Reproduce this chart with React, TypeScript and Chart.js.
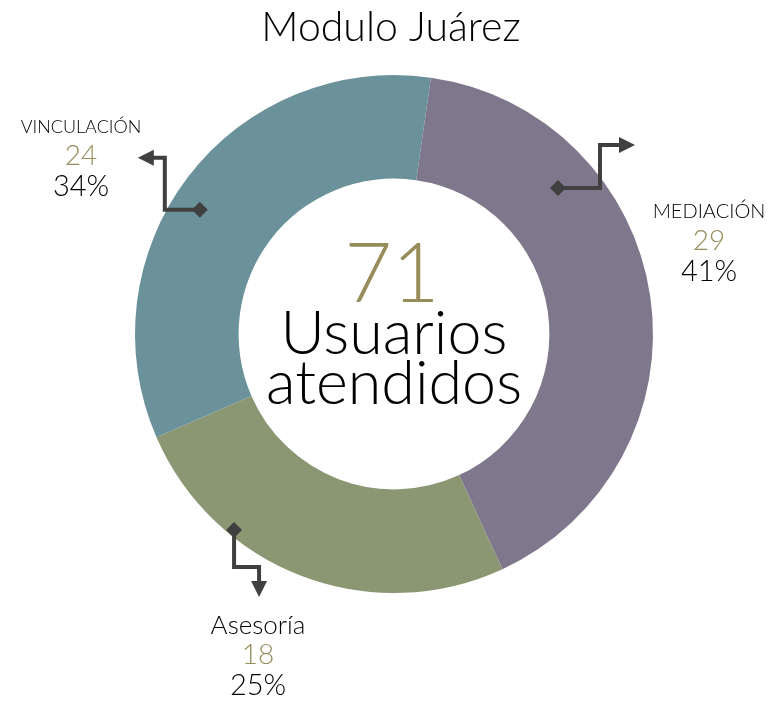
import React, { useEffect, useRef } from "react";
import { Chart, registerables } from "chart.js";

Chart.register(...registerables);

const TITLE = "Modulo Juárez";
const CATEGORIES = ["MEDIACIÓN", "Asesoría", "VINCULACIÓN"];
const VALUES = [29, 18, 24];
const COLORS = ["#7f778c", "#8b9672", "#6b919b"];
const CENTER_LABEL = ["Usuarios", "atendidos"];

const FONT = "Lato, 'Open Sans', sans-serif";
const W = "300";
const GOLD = "#968d5b";
const LINE = "#404040";

// callout geometry (annotation styling): anchor angle (deg, clockwise from top), radius fraction,
// elbow path offsets, label block position
const CALLOUTS = [
  { angle: 48.3, rf: 0.848, path: [[42, 0], [42, -43], [77, -43]], label: [709, 212], sizes: [20, 28, 29] },
  { angle: 219.2, rf: 0.977, path: [[0, 37], [25, 37], [25, 67]], label: [258, 626], sizes: [26, 28, 29] },
  { angle: 302.6, rf: 0.89, path: [[-35, 0], [-35, -52], [-62, -52]], label: [81, 127], sizes: [18, 28, 29] },
];

const overlay = {
  id: "overlay",
  afterDraw(chart: any) {
    const ctx = chart.ctx;
    const meta = chart.getDatasetMeta(0);
    const arc = meta.data[0];
    const { x: cx, y: cy, outerRadius } = arc.getProps(["x", "y", "outerRadius"], true);
    const total = VALUES.reduce((a, b) => a + b, 0);
    ctx.save();
    ctx.textAlign = "center";
    ctx.textBaseline = "middle";
    // title
    ctx.fillStyle = "#000";
    ctx.font = `${W} 41px ${FONT}`;
    ctx.fillText(TITLE, chart.width / 2 + 3, 28);
    // center
    ctx.fillStyle = GOLD;
    ctx.font = `${W} 82px ${FONT}`;
    ctx.fillText(String(total), cx - 2, cy - 58);
    ctx.fillStyle = "#000";
    ctx.font = `${W} 61px ${FONT}`;
    ctx.fillText(CENTER_LABEL[0], cx, cy + 0);
    ctx.fillText(CENTER_LABEL[1], cx, cy + 50);

    CALLOUTS.forEach((c, i) => {
      const a = (c.angle * Math.PI) / 180;
      const r = outerRadius * c.rf;
      const x0 = cx + Math.sin(a) * r;
      const y0 = cy - Math.cos(a) * r;
      const pts = [[x0, y0], ...c.path.map(([dx, dy]) => [x0 + dx, y0 + dy])];
      ctx.strokeStyle = LINE;
      ctx.fillStyle = LINE;
      ctx.lineWidth = 4;
      ctx.lineJoin = "miter";
      const n = pts.length;
      const [px, py] = pts[n - 2];
      const [tx, ty] = pts[n - 1];
      const len = Math.hypot(tx - px, ty - py);
      const ux = (tx - px) / len, uy = (ty - py) / len;
      ctx.beginPath();
      ctx.moveTo(pts[0][0], pts[0][1]);
      for (let k = 1; k < n - 1; k++) ctx.lineTo(pts[k][0], pts[k][1]);
      ctx.lineTo(tx - ux * 12, ty - uy * 12);
      ctx.stroke();
      ctx.beginPath();
      ctx.moveTo(tx, ty);
      ctx.lineTo(tx - ux * 16 - uy * 8, ty - uy * 16 + ux * 8);
      ctx.lineTo(tx - ux * 16 + uy * 8, ty - uy * 16 - ux * 8);
      ctx.closePath();
      ctx.fill();
      ctx.beginPath();
      ctx.moveTo(x0 - 8, y0);
      ctx.lineTo(x0, y0 - 8);
      ctx.lineTo(x0 + 8, y0);
      ctx.lineTo(x0, y0 + 8);
      ctx.closePath();
      ctx.fill();
      const [lx, ly] = c.label;
      ctx.fillStyle = "#000";
      ctx.font = `${W} ${c.sizes[0]}px ${FONT}`;
      ctx.fillText(CATEGORIES[i], lx, ly);
      ctx.fillStyle = GOLD;
      ctx.font = `${W} ${c.sizes[1]}px ${FONT}`;
      ctx.fillText(String(VALUES[i]), lx, ly + 29);
      ctx.fillStyle = "#000";
      ctx.font = `${W} ${c.sizes[2]}px ${FONT}`;
      ctx.fillText(`${Math.round((VALUES[i] / total) * 100)}%`, lx, ly + 60);
    });
    ctx.restore();
  },
};

export default function App() {
  const ref = useRef<HTMLCanvasElement>(null);
  useEffect(() => {
    if (!ref.current) return;
    const chart = new Chart(ref.current, {
      type: "doughnut",
      data: {
        labels: CATEGORIES,
        datasets: [
          {
            data: VALUES,
            backgroundColor: COLORS,
            borderWidth: 0,
          },
        ],
      },
      options: {
        animation: false,
        responsive: false,
        rotation: 8.2,
        cutout: "60%",
        layout: { padding: { left: 135, right: 123, top: 75, bottom: 108 } },
        plugins: {
          legend: { display: false },
          title: { display: false },
          tooltip: { enabled: false },
        },
      },
      plugins: [overlay],
    });
    return () => chart.destroy();
  }, []);
  return (
    <div style={{ position: "fixed", left: 0, top: 0, width: 776, height: 701, background: "#fff" }}>
      <canvas ref={ref} width={776} height={701} style={{ width: 776, height: 701 }} />
    </div>
  );
}
